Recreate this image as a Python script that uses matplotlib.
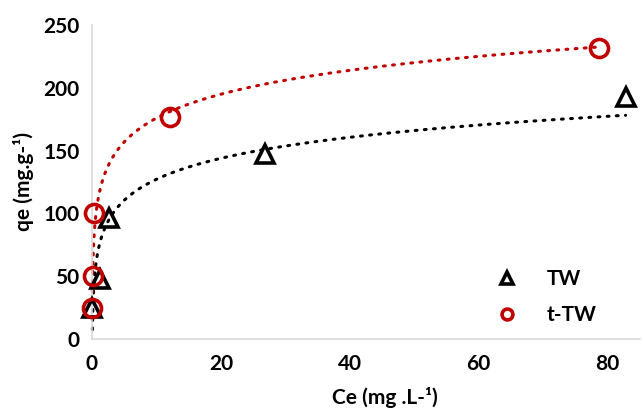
import numpy as np
import matplotlib
matplotlib.use("Agg")
import matplotlib.pyplot as plt

plt.rcParams['font.family'] = ['Lato', 'DejaVu Sans']
plt.rcParams['font.weight'] = 'bold'

# Data
tw_ce = [0.07, 1.3, 2.6, 26.8, 82.8]
tw_qe = [25, 48, 96, 147, 193]
ttw_ce = [0.05, 0.15, 0.3, 12.1, 78.6]
ttw_qe = [25, 50, 100, 177, 232]

x_ticks = [0, 20, 40, 60, 80]
y_ticks = [0, 50, 100, 150, 200, 250]

RED = '#C00000'

fig = plt.figure(figsize=(6.43, 4.08), dpi=100)
ax = fig.add_axes([0.143, 0.169, 0.852, 0.770])

def log_fit(x, y):
    lx = np.log(np.asarray(x))
    a, b = np.polyfit(lx, np.asarray(y), 1)
    xs = np.geomspace(min(x), max(x), 400)
    return xs, a * np.log(xs) + b

xs, ys = log_fit(tw_ce, tw_qe)
ax.plot(xs, ys, color='black', lw=2.2, linestyle=(0, (0.6, 2.4)),
        dash_capstyle='round', zorder=2, clip_on=False)
xs, ys = log_fit(ttw_ce, ttw_qe)
ax.plot(xs, ys, color=RED, lw=2.2, linestyle=(0, (0.6, 2.4)),
        dash_capstyle='round', zorder=2, clip_on=False)

ax.plot(tw_ce, tw_qe, linestyle='none', marker='^', ms=13.5, mfc='none',
        mec='black', mew=2.6, label='TW', zorder=3, clip_on=False)
ax.plot(ttw_ce, ttw_qe, linestyle='none', marker='o', ms=13, mfc='none',
        mec=RED, mew=2.6, label='t-TW', zorder=4, clip_on=False)

ax.set_xlim(0, 85)
ax.set_ylim(0, 250)
ax.set_xticks(x_ticks)
ax.set_yticks(y_ticks)
ax.tick_params(length=0, labelsize=15)
ax.tick_params(axis='x', pad=11)
ax.tick_params(axis='y', pad=9)
for lab in ax.get_xticklabels() + ax.get_yticklabels():
    lab.set_fontweight('bold')

for s in ['top', 'right']:
    ax.spines[s].set_visible(False)
for s in ['left', 'bottom']:
    ax.spines[s].set_color('#d9d9d9')
    ax.spines[s].set_linewidth(1.2)

ax.set_xlabel('Ce (mg .L-¹)', fontsize=15, fontweight='bold')
ax.xaxis.set_label_coords(0.535, -0.152)
ax.set_ylabel('qe (mg.g-¹)', fontsize=15, fontweight='bold')
ax.yaxis.set_label_coords(-0.105, 0.5)

leg = ax.legend(loc='lower right', bbox_to_anchor=(0.955, -0.015), frameon=False,
                markerscale=0.6, fontsize=15, handlelength=1.2,
                handletextpad=1.3, labelspacing=0.75)
for t in leg.get_texts():
    t.set_fontweight('bold')

fig.savefig('out.png', dpi=100)
